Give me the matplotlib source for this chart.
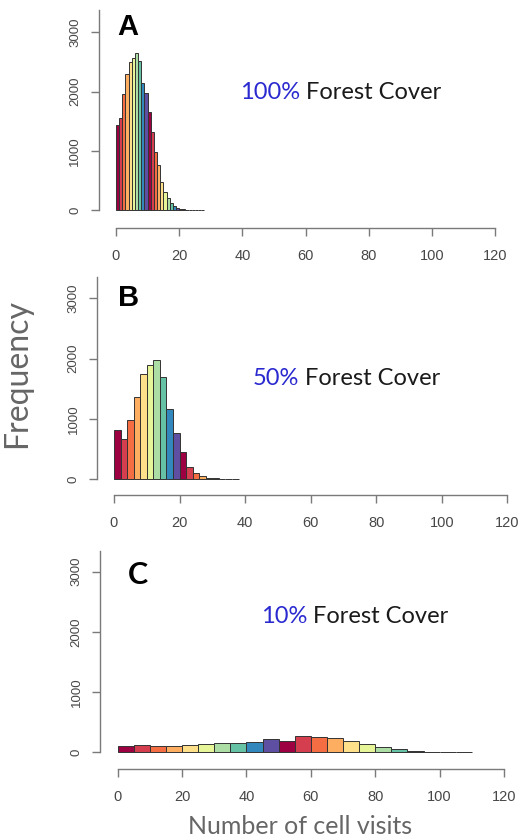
import matplotlib
matplotlib.use("Agg")
import matplotlib.pyplot as plt
from matplotlib import font_manager
import numpy as np

W, H = 519, 840
fig = plt.figure(figsize=(W / 100, H / 100), dpi=100)

palette = ["#9E0142", "#D53E4F", "#F46D43", "#FDAE61", "#FEE08B",
           "#E6F598", "#ABDDA4", "#66C2A5", "#3288BD", "#5E4FA2"]

# Panel A: 100% forest cover, bins of width 1
a_width = 1
a_counts = [1430, 1550, 1950, 2300, 2500, 2560, 2650, 2520, 2150, 1980,
            1650, 1320, 980, 760, 480, 310, 200, 115, 60, 30,
            15, 10, 7, 5, 4, 3, 2, 2]
# Panel B: 50% forest cover, bins of width 2
b_width = 2
b_counts = [820, 670, 985, 1360, 1740, 1890, 1970, 1700, 1170, 770,
            460, 210, 105, 48, 28, 15, 10, 7, 5]
# Panel C: 10% forest cover, bins of width 5
c_width = 5
c_counts = [111, 117, 106, 106, 117, 133, 150, 156, 172, 222,
            189, 267, 250, 244, 183, 133, 83, 50, 22, 11, 6, 6]

x_ticks = [0, 20, 40, 60, 80, 100, 120]
y_ticks = [0, 1000, 2000, 3000]
panel_letters = ["A", "B", "C"]
pct_labels = ["100%", "50%", "10%"]
rest_label = "Forest Cover"

axis_grey = "#7a7a7a"
text_grey = "#474747"

available = {f.name for f in font_manager.fontManager.ttflist}
tick_font = "Liberation Sans Narrow" if "Liberation Sans Narrow" in available else "Liberation Sans"
narrow = tick_font == "Liberation Sans Narrow"
x_size = 11.5 if narrow else 10.5
y_size = 10.5 if narrow else 9.5


def make_panel(counts, width, x0px, x120px, y0px, y3000px, spine_x, axis_y,
               spine_top_px, top_px):
    sx = (x120px - x0px) / 120.0
    sy = (y0px - y3000px) / 3000.0
    right_px = W
    xmin = (spine_x - x0px) / sx
    xmax = (right_px - x0px) / sx
    ymin = -(axis_y - y0px) / sy
    ymax = (y0px - top_px) / sy
    ax = fig.add_axes([spine_x / W, 1 - axis_y / H,
                       (right_px - spine_x) / W, (axis_y - top_px) / H])
    ax.set_xlim(xmin, xmax)
    ax.set_ylim(ymin, ymax)
    lefts = np.arange(len(counts)) * width
    cols = [palette[i % len(palette)] for i in range(len(counts))]
    ax.bar(lefts, counts, width=width, align="edge", color=cols,
           edgecolor="#333333", linewidth=0.7)
    for s in ["top", "right"]:
        ax.spines[s].set_visible(False)
    ax.spines["left"].set_bounds(0, (y0px - spine_top_px) / sy)
    ax.spines["bottom"].set_bounds(0, 120)
    for s in ["left", "bottom"]:
        ax.spines[s].set_color(axis_grey)
        ax.spines[s].set_linewidth(1.0)
    ax.set_xticks(x_ticks)
    ax.set_xticklabels([str(t) for t in x_ticks])
    ax.set_yticks(y_ticks)
    ax.set_yticklabels([str(t) for t in y_ticks], rotation=90, va="center")
    ax.tick_params(axis="both", direction="out", length=5.5, width=1.0,
                   color=axis_grey, labelcolor=text_grey)
    ax.tick_params(axis="x", pad=9.5, labelsize=x_size)
    ax.tick_params(axis="y", pad=7, labelsize=y_size)
    for lab in ax.get_xticklabels() + ax.get_yticklabels():
        lab.set_fontfamily(tick_font)
    ax.patch.set_alpha(0)
    return ax


make_panel(a_counts, a_width, 116, 495, 210, 32.3, 98.5, 227.7, 10, 2)
make_panel(b_counts, b_width, 114, 507.3, 479.3, 298.3, 97, 494.7, 277, 270)
make_panel(c_counts, c_width, 117.7, 504, 752.3, 571.7, 100, 769.3, 550.7, 545)


def fx(px):
    return px / W


def fy(py):
    return 1 - py / H


# panel letters
fig.text(fx(128), fy(27), "A", fontsize=21, fontweight="bold",
         family="Liberation Sans", ha="center", va="center", color="black")
fig.text(fx(129), fy(297.5), "B", fontsize=21, fontweight="bold",
         family="Liberation Sans", ha="center", va="center", color="black")
fig.text(fx(137.5), fy(575), "C", fontsize=22, fontweight="bold",
         family="Lato", ha="center", va="center", color="black")

# forest cover labels
fig.canvas.draw()
renderer = fig.canvas.get_renderer()
label_pos = [(240, 92.7), (253, 379), (261, 616.7)]
for pct, (lx, ly) in zip(pct_labels, label_pos):
    t1 = fig.text(fx(lx), fy(ly), pct, fontsize=17, family="Lato",
                  color="#2a2ad0", ha="left", va="center")
    bb = t1.get_window_extent(renderer=renderer)
    fig.text(bb.x1 / W + 6 / W, fy(ly), rest_label, fontsize=17,
             family="Lato", color="#1a1a1a", ha="left", va="center")

# axis labels
fig.text(fx(17), fy(374), "Frequency", fontsize=23, family="Lato",
         color="#666666", rotation=90, ha="center", va="center")
fig.text(fx(300), fy(826), "Number of cell visits", fontsize=18,
         family="Lato", color="#666666", ha="center", va="center")

fig.savefig("out.png", dpi=100)
